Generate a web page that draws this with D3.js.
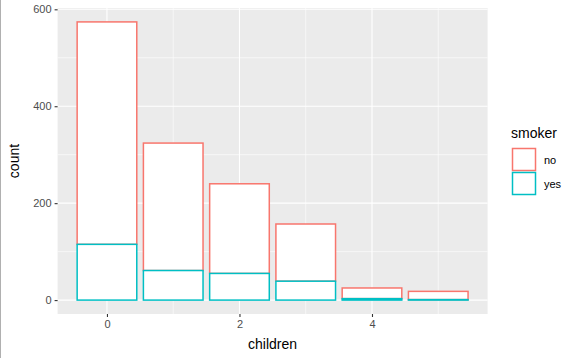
<!DOCTYPE html>
<html><head><meta charset="utf-8">
<script src="https://cdn.jsdelivr.net/npm/d3@7"></script>
<style>body{margin:0;background:#fff}svg{display:block;font-family:"Liberation Sans",Arial,sans-serif}</style>
</head><body>
<script>
const children = [0,1,2,3,4,5];
const smokerLevels = ["no","yes"];
const countNo = [459,263,185,118,22,17];
const countYes = [115,61,55,39,3,1];
const xTicks = [0,2,4];
const yTicks = [0,200,400,600];
const colors = ["#F8766D","#00BFC4"];

const W=580,H=358;
const svg=d3.select("body").append("svg").attr("width",W).attr("height",H);
const pl=57.6, pr=487.6, pt=8, pb=314;
const x=d3.scaleLinear().domain([-0.745,5.745]).range([pl,pr]);
const maxTot=d3.max(children.map((c,i)=>countNo[i]+countYes[i]));
const yr=maxTot*0.05;
const y=d3.scaleLinear().domain([-yr,maxTot+yr]).range([pb,pt]);

svg.append("line").attr("x1",0.5).attr("x2",0.5).attr("y1",0).attr("y2",H).attr("stroke","#b0b0b0");

svg.append("rect").attr("x",pl).attr("y",pt).attr("width",pr-pl).attr("height",pb-pt).attr("fill","#EBEBEB");
const g=svg.append("g");
[1,3,5].forEach(v=>g.append("line").attr("x1",x(v)).attr("x2",x(v)).attr("y1",pt).attr("y2",pb).attr("stroke","#fff").attr("stroke-width",0.6));
[100,300,500].forEach(v=>g.append("line").attr("x1",pl).attr("x2",pr).attr("y1",y(v)).attr("y2",y(v)).attr("stroke","#fff").attr("stroke-width",0.6));
xTicks.forEach(v=>g.append("line").attr("x1",x(v)).attr("x2",x(v)).attr("y1",pt).attr("y2",pb).attr("stroke","#fff").attr("stroke-width",1.1));
yTicks.forEach(v=>g.append("line").attr("x1",pl).attr("x2",pr).attr("y1",y(v)).attr("y2",y(v)).attr("stroke","#fff").attr("stroke-width",1.1));

const bw=0.9;
const bars=[];
children.forEach((c,i)=>{
  bars.push({c,lo:countYes[i],hi:countYes[i]+countNo[i],col:colors[0]});
});
children.forEach((c,i)=>{
  bars.push({c,lo:0,hi:countYes[i],col:colors[1]});
});
svg.selectAll("rect.bar").data(bars).enter().append("rect").attr("class","bar")
  .attr("x",d=>x(d.c-bw/2)).attr("width",d=>x(d.c+bw/2)-x(d.c-bw/2))
  .attr("y",d=>y(d.hi)).attr("height",d=>y(d.lo)-y(d.hi))
  .attr("fill","#fff").attr("stroke",d=>d.col).attr("stroke-width",1.5);

// axes
const xa=svg.append("g").attr("transform",`translate(0,${pb})`)
  .call(d3.axisBottom(x).tickValues(xTicks).tickSize(3).tickPadding(3).tickFormat(d3.format("d")));
const ya=svg.append("g").attr("transform",`translate(${pl},0)`)
  .call(d3.axisLeft(y).tickValues(yTicks).tickSize(3).tickPadding(3).tickFormat(d3.format("d")));
[xa,ya].forEach(a=>{a.select(".domain").remove();a.selectAll(".tick line").attr("stroke","#333").attr("stroke-width",1.1);
  a.selectAll(".tick text").attr("fill","#4D4D4D").style("font-size","11px").style("font-family","'Liberation Sans',Arial,sans-serif");});

svg.append("text").attr("x",(pl+pr)/2).attr("y",349).attr("text-anchor","middle").style("font-size","14px").attr("fill","#000").text("children");
svg.append("text").attr("transform",`translate(19,${(pt+pb)/2}) rotate(-90)`).attr("text-anchor","middle").style("font-size","14px").attr("fill","#000").text("count");

// legend
const lg=svg.append("g");
lg.append("text").attr("x",511).attr("y",138).style("font-size","14px").attr("fill","#000").text("smoker");
smokerLevels.forEach((s,i)=>{
  const yy=148+i*24;
  lg.append("rect").attr("x",512.5).attr("y",yy+0.5).attr("width",23).attr("height",22).attr("fill","#fff").attr("stroke",colors[i]).attr("stroke-width",1.5);
  lg.append("text").attr("x",544).attr("y",yy+15.5).style("font-size","11px").attr("fill","#000").text(s);
});
</script>
</body></html>
